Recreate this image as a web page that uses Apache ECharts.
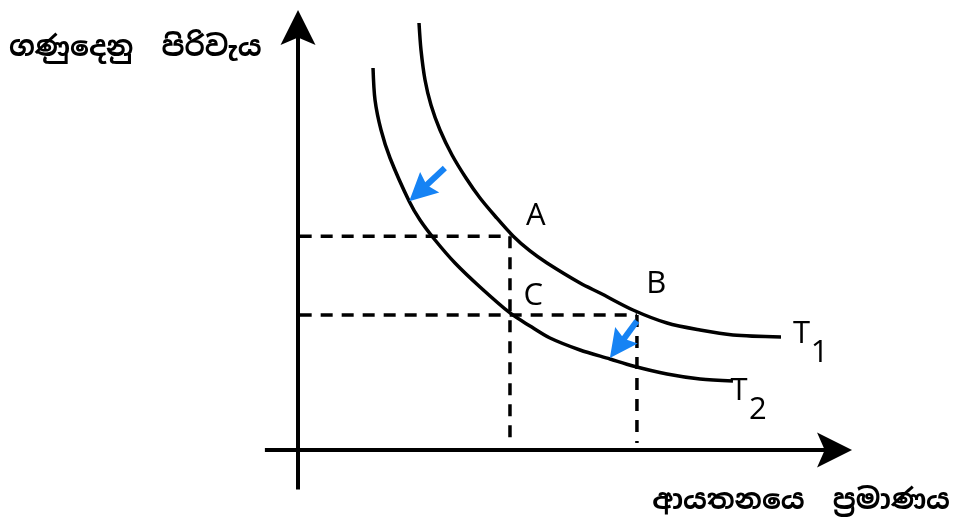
<!DOCTYPE html>
<html>
<head>
<meta charset="utf-8">
<script src="https://cdn.jsdelivr.net/npm/echarts@6/dist/echarts.min.js"></script>
<style>html,body{margin:0;padding:0;background:#fff;}#c{width:955px;height:517px;}</style>
</head>
<body>
<div id="c"></div>
<script>
// Curves (x, y in chart units)
const t1X = [21.92, 22.28, 23.01, 24.09, 25.72, 27.90, 30.43, 32.97, 35.69, 38.95, 42.03, 45.11, 51.09, 54.71, 60.69, 66.85, 72.83, 78.80, 87.50];
const t1Y = [97.05, 90.91, 84.09, 78.41, 72.73, 67.05, 61.82, 57.27, 53.18, 48.64, 45.23, 42.50, 37.95, 35.68, 31.82, 28.86, 27.27, 26.14, 25.68];
const t2X = [13.59, 13.95, 15.04, 16.67, 20.11, 22.10, 24.82, 28.44, 32.97, 38.41, 42.03, 45.65, 51.09, 56.52, 60.69, 66.85, 72.83, 78.80];
const t2Y = [86.82, 79.55, 72.73, 66.36, 56.59, 52.27, 47.73, 42.50, 37.05, 31.14, 28.18, 25.45, 22.73, 20.68, 19.09, 17.27, 16.14, 15.68];
// Reference points A, B, C
const pointA = [38.4, 48.6];
const pointB = [61.4, 30.7];
const pointC = [38.4, 30.7];
const dashEndY = 1.6;
// Labels: [x, y, text]
const pointLabels = [[43.1, 53.2, 'A'], [64.9, 37.7, 'B'], [42.6, 35.0, 'C'],
                     [91.2, 26.3, 'T'], [94.5, 21.9, '1'], [79.9, 13.3, 'T'], [83.3, 9.1, '2']];
// Shift arrows: [tailX, tailY, headX, headY]
const shiftArrows = [[26.6, 64.1, 22.0, 58.7], [61.4, 29.3, 58.0, 23.5]];
// Axis extents
const xAxisLine = [[-6, 0], [97.2, 0]];
const yAxisLine = [[0, -9], [0, 96.0]];
const yTitle = 'ගණුදෙනු  පිරිවැය';
const xTitle = 'ආයතනයෙ  ප්‍රමාණය';

const arrowPath = 'path://M50,0 L100,100 L50,78 L0,100 Z';
const blueHead = 'path://M50,0 L100,100 L50,85 L0,100 Z';
const toPairs = (xs, ys) => xs.map((x, i) => [x, ys[i]]);

const chart = echarts.init(document.getElementById('c'), null, {renderer: 'canvas'});
const dash = {type: [12, 9], width: 3.5, color: '#000'};
const dashedSeries = [
  [[0.3, pointA[1]], pointA],
  [pointA, [pointA[0], dashEndY]],
  [[0.3, pointB[1]], pointB],
  [pointB, [pointB[0], dashEndY]]
].map(d => ({type: 'line', data: d, symbol: 'none', lineStyle: dash, silent: true}));

chart.setOption({
  animation: false,
  backgroundColor: '#fff',
  grid: {left: 264.9, right: 105, top: 10, bottom: 27.4},
  xAxis: {type: 'value', min: -6, max: 100, show: false},
  yAxis: {type: 'value', min: -9, max: 100, show: false},
  graphic: [
    {type: 'text', left: 9, top: 34, style: {text: yTitle, font: 'bold 28px "Noto Sans Sinhala", "Noto Sans", sans-serif', fill: '#000'}},
    {type: 'text', right: 5, top: 487, style: {text: xTitle, font: 'bold 28px "Noto Sans Sinhala", "Noto Sans", sans-serif', fill: '#000'}}
  ],
  series: [
    {type: 'line', data: toPairs(t1X, t1Y), smooth: 0.3, symbol: 'none', lineStyle: {color: '#000', width: 3.5}, silent: true},
    {type: 'line', data: toPairs(t2X, t2Y), smooth: 0.3, symbol: 'none', lineStyle: {color: '#000', width: 3.5}, silent: true},
    ...dashedSeries,
    {
      type: 'line', data: [], silent: true,
      markLine: {
        silent: true, animation: false,
        symbol: ['none', arrowPath], symbolSize: 35,
        label: {show: false}, emphasis: {disabled: true},
        lineStyle: {color: '#000', width: 4, type: 'solid'},
        data: [
          [{coord: xAxisLine[0]}, {coord: xAxisLine[1]}],
          [{coord: yAxisLine[0]}, {coord: yAxisLine[1]}]
        ]
      }
    },
    {
      type: 'line', data: [], silent: true,
      markLine: {
        silent: true, animation: false,
        symbol: ['none', blueHead], symbolSize: 28,
        label: {show: false}, emphasis: {disabled: true},
        lineStyle: {color: '#1683f4', width: 6, type: 'solid', opacity: 1},
        itemStyle: {color: '#1683f4'},
        data: shiftArrows.map(a => [{coord: [a[0], a[1]]}, {coord: [a[2], a[3]]}])
      }
    },
    {
      type: 'scatter', silent: true, symbolSize: 1, itemStyle: {color: 'rgba(0,0,0,0)'},
      data: pointLabels,
      label: {show: true, position: 'inside', formatter: p => p.value[2],
              fontFamily: 'Open Sans', fontSize: 31, color: '#000', opacity: 1}
    }
  ]
});
</script>
</body>
</html>
